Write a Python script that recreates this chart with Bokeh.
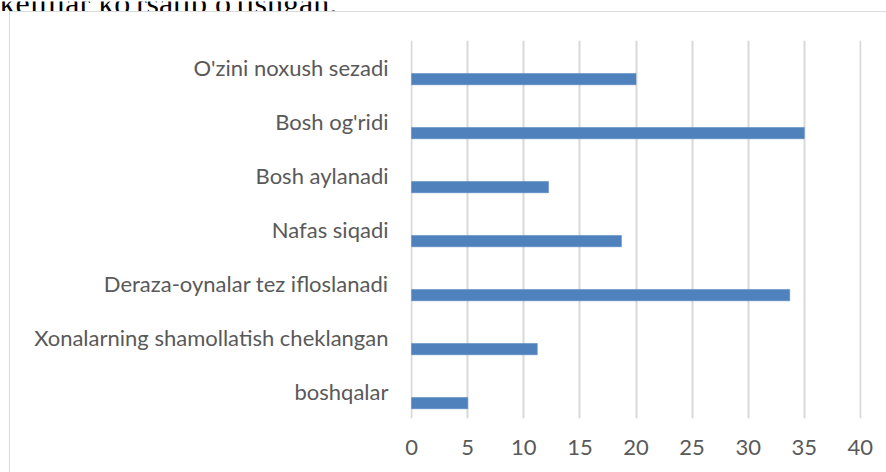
from bokeh.plotting import figure
from bokeh.layouts import column
from bokeh.models import FactorRange, Range1d, FixedTicker, ColumnDataSource
from bokeh.core.properties import value
from bokeh.transform import dodge
from bokeh.embed import file_html
from bokeh.resources import INLINE

categories = [
    "O'zini noxush sezadi",
    "Bosh og'ridi",
    "Bosh aylanadi",
    "Nafas siqadi",
    "Deraza-oynalar tez ifloslanadi",
    "Xonalarning shamollatish cheklangan",
    "boshqalar",
]
values = [20, 35, 12.2, 18.7, 33.7, 11.2, 5]
x_ticks = [0, 5, 10, 15, 20, 25, 30, 35, 40]
top_text = ["kellilar ko'rsatib o'tishgan."]

W = 886
STRIP_H = 11
MAIN_H = 472 - STRIP_H

# strip with the cut-off line of document text above the chart
strip = figure(width=W, height=STRIP_H, x_range=Range1d(0, W), y_range=Range1d(0, STRIP_H),
               x_axis_type=None, y_axis_type=None, output_backend="svg",
               toolbar_location=None, min_border=0, frame_align=False)
strip.outline_line_color = None
strip.grid.visible = False
strip.text(x=[-1], y=[10], text=top_text, text_font=value("Liberation Serif"),
           text_font_size="32px", text_color="#000000", text_baseline="alphabetic",
           text_align="left")

fig = figure(
    width=W, height=MAIN_H,
    y_range=FactorRange(factors=list(reversed(categories))),
    x_range=Range1d(-0.1, 40.1),
    output_backend="svg", toolbar_location=None, frame_align=False,
    min_border_left=410, min_border_right=25,
    min_border_top=29, min_border_bottom=54,
    styles={"background": "linear-gradient(#d9d9d9, #d9d9d9) 9px 0px / 1px 100% no-repeat, "
                          "linear-gradient(#d9d9d9, #d9d9d9) 9px 0px / 100% 1px no-repeat, #ffffff"},
)
fig.border_fill_color = None

src = ColumnDataSource(dict(cat=categories, val=values))
fig.hbar(y=dodge("cat", -0.215, range=fig.y_range), right="val", left=0, height=0.21,
         source=src, fill_color="#4F81BD", line_color="#4F81BD", line_width=0.5)

fig.outline_line_color = None
fig.ygrid.grid_line_color = None
fig.xgrid.grid_line_color = "#d9d9d9"
fig.xgrid.grid_line_width = 2
fig.xgrid.ticker = FixedTicker(ticks=x_ticks)
fig.xaxis.ticker = FixedTicker(ticks=x_ticks)

for ax in (fig.xaxis, fig.yaxis):
    ax.axis_line_color = None
    ax.major_tick_line_color = None
    ax.minor_tick_line_color = None
    ax.major_tick_out = 0
    ax.major_tick_in = 0
    ax.major_label_text_color = "#595959"
    ax.major_label_text_font = "Lato"
    ax.major_label_text_font_size = "22px"
fig.xaxis.major_label_standoff = 21
fig.yaxis.major_label_standoff = 22

p = column(strip, fig, spacing=0)

open("out.html", "w").write(file_html(p, INLINE))
